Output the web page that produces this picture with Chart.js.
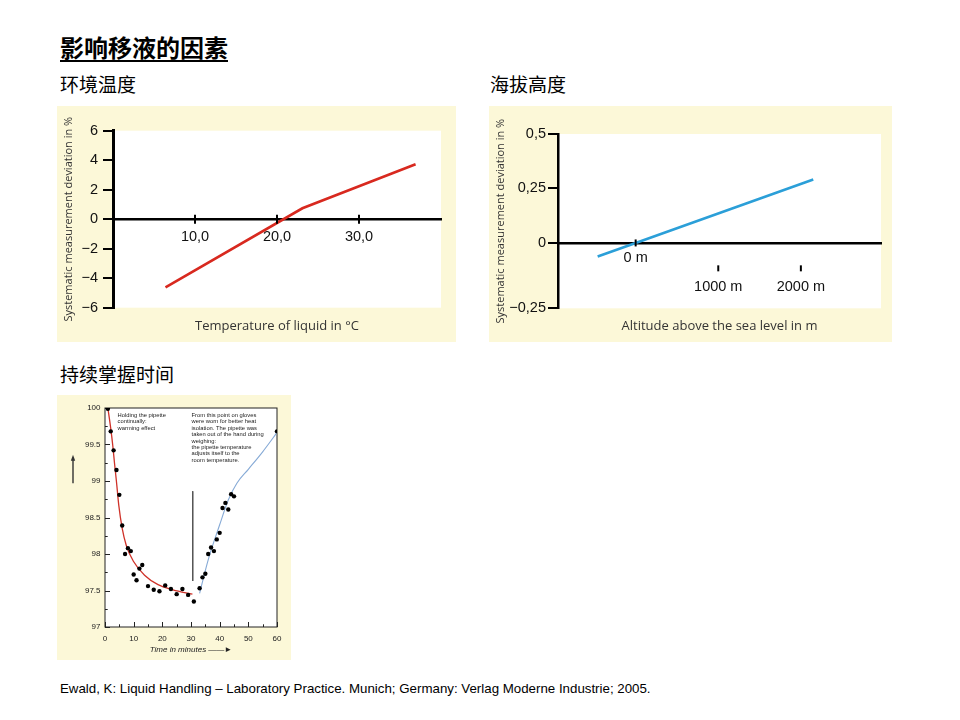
<!DOCTYPE html>
<html>
<head>
<meta charset="utf-8">
<script src="https://cdn.jsdelivr.net/npm/chart.js@4/dist/chart.umd.min.js"></script>
<style>
  body { margin: 0; width: 960px; height: 720px; background: #fff; position: relative; overflow: hidden; font-family: "Noto Sans CJK SC", sans-serif; }
  .t { position: absolute; white-space: nowrap; color: #000; }
  .panel { position: absolute; background: #fcf8d8; }
</style>
</head>
<body>
<div class="t" style="left:60px;top:31px;font-size:24px;font-weight:bold;line-height:32px;text-decoration:underline;text-underline-offset:3px;">影响移液的因素</div>
<div class="t" style="left:60px;top:71px;font-size:19px;line-height:26px;">环境温度</div>
<div class="t" style="left:490px;top:71px;font-size:19px;line-height:26px;">海拔高度</div>
<div class="t" style="left:60px;top:361px;font-size:19px;line-height:26px;">持续掌握时间</div>
<div class="t" style="left:60px;top:681px;font-family:'Liberation Sans',Arial,sans-serif;font-size:13.3px;line-height:16px;">Ewald, K: Liquid Handling – Laboratory Practice. Munich; Germany: Verlag Moderne Industrie; 2005.</div>

<div class="panel" style="left:57px;top:106px;width:399px;height:236px;"><canvas id="tempChart"></canvas></div>
<div class="panel" style="left:489px;top:106px;width:403px;height:236px;"><canvas id="altChart"></canvas></div>
<div class="panel" style="left:57px;top:395px;width:234px;height:265px;"><canvas id="timeChart"></canvas></div>

<script>
// temperature of liquid
const tempC = [6.4, 23.1, 36.9];
const tempDev = [-4.62, 0.74, 3.72];
const tempTicksX = [10, 20, 30];
const tempTickLabelsX = ['10,0', '20,0', '30,0'];

// altitude
const altM = [-460, 0, 2150];
const altDev = [-0.062, 0, 0.291];
const altTicksX = [0, 1000, 2000];
const altTickLabelsX = ['0 m', '1000 m', '2000 m'];
const altTicksY = [0.5, 0.25, 0, -0.3];
const altTickLabelsY = ['0,5', '0,25', '0', '−0,25'];

// holding time
const timeMin = [1, 2, 3, 4, 5, 6, 7, 8, 9, 10, 11, 12, 13, 15, 17, 19, 21, 23, 25, 27, 29, 31, 33, 34, 35, 36, 37, 38, 39, 40, 41, 42, 43, 44, 45, 60];
const volPct = [99.99, 99.68, 99.42, 99.15, 98.81, 98.39, 98.0, 98.08, 98.04, 97.72, 97.64, 97.80, 97.85, 97.56, 97.51, 97.49, 97.57, 97.52, 97.45, 97.52, 97.44, 97.35, 97.53, 97.68, 97.73, 98.0, 98.09, 98.04, 98.2, 98.29, 98.63, 98.70, 98.61, 98.82, 98.79, 99.68];
const warmT = [1, 2, 2.7, 3.3, 4, 4.8, 6, 7.4, 9.9, 13.8, 18.5, 23.7, 30.5];
const warmV = [100, 99.72, 99.49, 99.25, 98.99, 98.67, 98.35, 98.12, 97.9, 97.71, 97.58, 97.51, 97.45];
const coolT = [33, 36, 40, 43, 46, 50, 55, 60.3];
const coolV = [97.46, 97.92, 98.40, 98.74, 98.97, 99.16, 99.40, 99.68];
const markT = [30.6, 30.6];
const markV = [98.86, 97.63];
const noteWarm = ['Holding the pipette', 'continually:', 'warming effect'];
const noteCool = ['From this point on gloves', 'were worn for better heat', 'isolation. The pipette was', 'taken out of the hand during', 'weighing:', 'the pipette temperature', 'adjusts itself to the', 'room temperature.'];

const pts = (xs, ys) => xs.map((x, i) => ({x: x, y: ys[i]}));
const yTitle = 'Systematic measurement deviation in %';
const sans = "'Liberation Sans', Arial, sans-serif";
const humanist = "'Open Sans', sans-serif";
const minus = v => (v < 0 ? '−' + Math.abs(v) : String(v));

// white plot area on the yellow panel
const whiteArea = {
  id: 'whiteArea',
  beforeDraw(chart) {
    const a = chart.chartArea, ctx = chart.ctx;
    ctx.save();
    ctx.fillStyle = '#fff';
    ctx.fillRect(a.left, a.top, a.right - a.left, a.bottom - a.top);
    ctx.restore();
  }
};

// tick marks crossing the x axis line at y = 0
const crossTicks = {
  id: 'crossTicks',
  afterDraw(chart, args, opts) {
    const xs = chart.scales.x, y0 = chart.scales.y.getPixelForValue(0), ctx = chart.ctx;
    ctx.save();
    ctx.strokeStyle = '#000';
    ctx.lineWidth = 2;
    xs.ticks.forEach(t => {
      const px = xs.getPixelForValue(t.value);
      const m = opts.mark(t.value);
      ctx.beginPath();
      ctx.moveTo(px, y0 + m[0]);
      ctx.lineTo(px, y0 + m[1]);
      ctx.stroke();
    });
    ctx.restore();
  }
};

new Chart(document.getElementById('tempChart'), {
  type: 'scatter',
  data: {
    datasets: [{
      data: pts(tempC, tempDev),
      showLine: true,
      borderColor: '#d8291f',
      borderWidth: 2.6,
      pointRadius: 0,
      tension: 0
    }]
  },
  options: {
    responsive: true,
    maintainAspectRatio: false,
    animation: false,
    layout: {padding: {left: 0, top: 24.7, right: 15, bottom: 7.7}},
    plugins: {
      legend: {display: false},
      tooltip: {enabled: false},
      title: {
        display: true, position: 'bottom', fullSize: false,
        text: 'Temperature of liquid in °C',
        color: '#333', font: {family: humanist, size: 13, weight: 'normal'},
        padding: {top: 11, bottom: 0}
      },
      crossTicks: {mark: v => [-4.5, 4.5]}
    },
    scales: {
      x: {
        type: 'linear', position: {y: 0}, min: 0, max: 40,
        afterBuildTicks: s => { s.ticks = tempTicksX.map(v => ({value: v})); },
        ticks: {callback: (v, i) => tempTickLabelsX[i], color: '#111', font: {family: sans, size: 14.5}, padding: 9, autoSkip: false, maxRotation: 0},
        grid: {display: false, drawTicks: false},
        border: {display: true, color: '#000', width: 2.5}
      },
      y: {
        min: -6, max: 6,
        afterFit: s => { s.width = 56; },
        ticks: {stepSize: 2, callback: v => minus(v), color: '#111', font: {family: sans, size: 14.5}, padding: 5},
        grid: {display: true, drawOnChartArea: false, drawTicks: true, tickLength: 10, color: '#000', lineWidth: 2},
        border: {display: true, color: '#000', width: 3},
        title: {display: true, text: yTitle, color: '#333', font: {family: humanist, size: 11}, padding: {top: 5.4, bottom: 0}}
      }
    }
  },
  plugins: [whiteArea, crossTicks]
});

new Chart(document.getElementById('altChart'), {
  type: 'scatter',
  data: {
    datasets: [{
      data: pts(altM, altDev),
      showLine: true,
      borderColor: '#2b9fd8',
      borderWidth: 2.6,
      pointRadius: 0,
      tension: 0
    }]
  },
  options: {
    responsive: true,
    maintainAspectRatio: false,
    animation: false,
    layout: {padding: {left: 0, top: 28, right: 11, bottom: 7.5}},
    plugins: {
      legend: {display: false},
      tooltip: {enabled: false},
      title: {
        display: true, position: 'bottom', fullSize: false,
        text: 'Altitude above the sea level in m',
        color: '#333', font: {family: humanist, size: 13, weight: 'normal'},
        padding: {top: 10.6, bottom: 0}
      },
      crossTicks: {mark: v => (v === 0 ? [-3.5, 3.5] : [22.4, 28.4])}
    },
    scales: {
      x: {
        type: 'linear', position: {y: 0}, min: -940, max: 2970,
        afterBuildTicks: s => { s.ticks = altTicksX.map(v => ({value: v})); },
        ticks: {
          callback: (v, i) => (i === 0 ? altTickLabelsX[i] : ['', '', altTickLabelsX[i]]),
          color: '#111', font: {family: sans, size: 14.5, lineHeight: 1}, padding: 8, autoSkip: false, maxRotation: 0
        },
        grid: {display: false, drawTicks: false},
        border: {display: true, color: '#000', width: 2.5}
      },
      y: {
        min: -0.3, max: 0.5,
        afterFit: s => { s.width = 69; },
        afterBuildTicks: s => { s.ticks = altTicksY.map(v => ({value: v})); },
        ticks: {callback: (v, i) => altTickLabelsY[i], color: '#111', font: {family: sans, size: 14.5}, padding: 2},
        grid: {display: true, drawOnChartArea: false, drawTicks: true, tickLength: 10, color: '#000', lineWidth: 2},
        border: {display: true, color: '#000', width: 2.5},
        title: {display: true, text: yTitle, color: '#333', font: {family: humanist, size: 11}, padding: {top: 5, bottom: 0}}
      }
    }
  },
  plugins: [whiteArea, crossTicks]
});

const isStep = (v, s) => Math.abs(v / s - Math.round(v / s)) < 1e-6;

// box frame with inward ticks, notes and the upward arrow
const timeDecor = {
  id: 'timeDecor',
  beforeDatasetsDraw(chart) {
    const a = chart.chartArea, xs = chart.scales.x, ys = chart.scales.y, ctx = chart.ctx;
    ctx.save();
    ctx.strokeStyle = '#222';
    ctx.lineWidth = 1;
    ctx.strokeRect(a.left, a.top, a.right - a.left, a.bottom - a.top);
    ctx.beginPath();
    xs.ticks.forEach(t => {
      const px = Math.round(xs.getPixelForValue(t.value)) + 0.5;
      const len = isStep(t.value, 10) ? 5 : 2.7;
      ctx.moveTo(px, a.bottom);
      ctx.lineTo(px, a.bottom - len);
    });
    ys.ticks.forEach(t => {
      const py = Math.round(ys.getPixelForValue(t.value)) + 0.5;
      const len = isStep(t.value, 0.5) ? 5 : 2.7;
      ctx.moveTo(a.left, py);
      ctx.lineTo(a.left + len, py);
    });
    ctx.stroke();
    ctx.restore();
  },
  afterDraw(chart) {
    const a = chart.chartArea, xs = chart.scales.x, ys = chart.scales.y, ctx = chart.ctx;
    ctx.save();
    ctx.fillStyle = '#222';
    ctx.font = "5.8px 'Liberation Sans', Arial, sans-serif";
    ctx.textBaseline = 'middle';
    const write = (lines, t, v) => {
      const x = xs.getPixelForValue(t), y = ys.getPixelForValue(v);
      lines.forEach((s, i) => ctx.fillText(s, x, y + i * 6.4));
    };
    write(noteWarm, 4.4, 99.9);
    write(noteCool, 30.2, 99.9);
    // arrow pointing up
    const ax = a.left - 32, y1 = ys.getPixelForValue(98.97), y2 = ys.getPixelForValue(99.36);
    ctx.strokeStyle = '#333';
    ctx.lineWidth = 1.4;
    ctx.beginPath();
    ctx.moveTo(ax, y1);
    ctx.lineTo(ax, y2 + 4);
    ctx.stroke();
    ctx.beginPath();
    ctx.moveTo(ax, y2);
    ctx.lineTo(ax - 2.2, y2 + 6);
    ctx.lineTo(ax + 2.2, y2 + 6);
    ctx.closePath();
    ctx.fillStyle = '#333';
    ctx.fill();
    ctx.restore();
  }
};

new Chart(document.getElementById('timeChart'), {
  type: 'scatter',
  data: {
    datasets: [
      {data: pts(warmT, warmV), showLine: true, borderColor: '#cf3229', borderWidth: 1.3, pointRadius: 0, cubicInterpolationMode: 'monotone', order: 2},
      {data: pts(coolT, coolV), showLine: true, borderColor: '#86aad6', borderWidth: 1.1, pointRadius: 0, cubicInterpolationMode: 'monotone', order: 2},
      {data: pts(markT, markV), showLine: true, borderColor: '#555', borderWidth: 1, pointRadius: 0, order: 2},
      {data: pts(timeMin, volPct), showLine: false, pointRadius: 2.2, pointBackgroundColor: '#000', pointBorderWidth: 0, order: 1}
    ]
  },
  options: {
    responsive: true,
    maintainAspectRatio: false,
    animation: false,
    layout: {padding: {left: 0, top: 13, right: 14, bottom: 0}},
    plugins: {legend: {display: false}, tooltip: {enabled: false}},
    scales: {
      x: {
        type: 'linear', min: 0, max: 60,
        afterFit: s => { s.height = 33; },
        ticks: {stepSize: 5, autoSkip: false, maxRotation: 0, callback: v => (isStep(v, 10) ? String(v) : ''), color: '#222', font: {family: sans, size: 8}, padding: 7},
        grid: {display: false, drawTicks: false},
        border: {display: false},
        title: {display: true, text: 'Time in minutes ——►', color: '#222', font: {family: sans, size: 8, style: 'italic'}, padding: {top: 0, bottom: 5.2}}
      },
      y: {
        min: 97, max: 100,
        afterFit: s => { s.width = 48; },
        ticks: {stepSize: 0.25, autoSkip: false, callback: v => (isStep(v, 0.5) ? String(v) : ''), color: '#222', font: {family: sans, size: 8}, padding: 4.5},
        grid: {display: false, drawTicks: false},
        border: {display: false}
      }
    }
  },
  plugins: [whiteArea, timeDecor]
});
</script>
</body>
</html>
